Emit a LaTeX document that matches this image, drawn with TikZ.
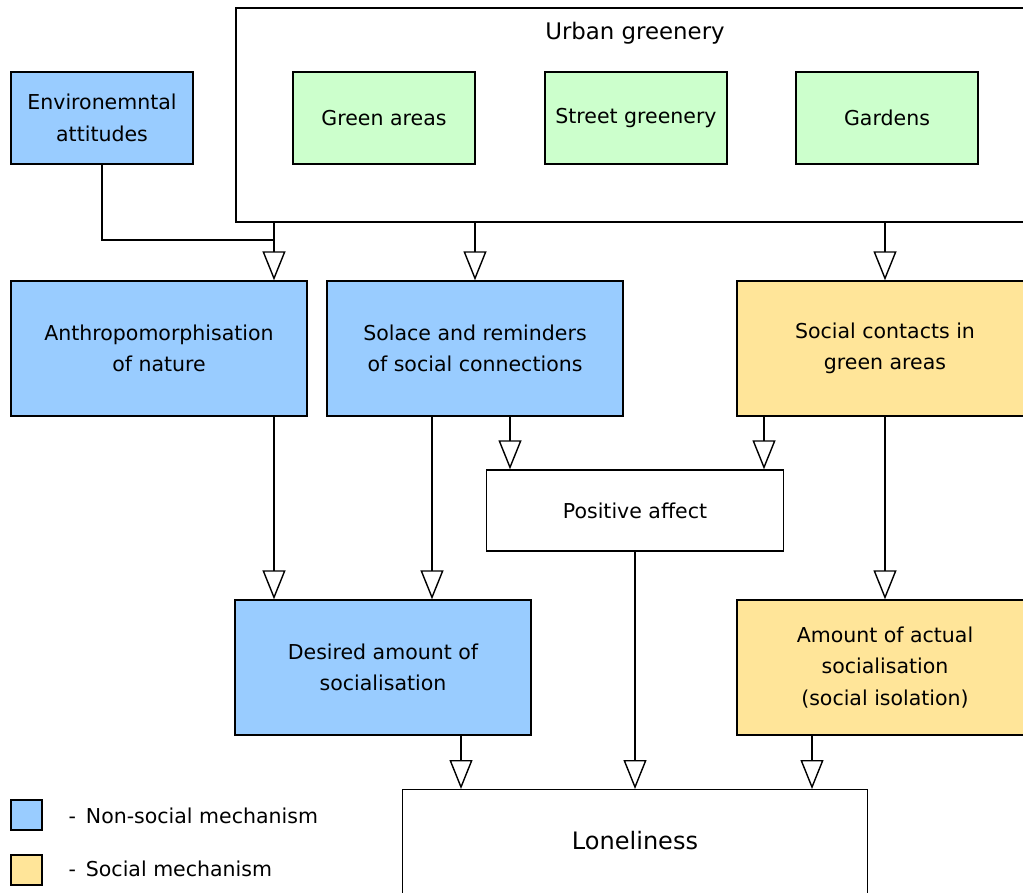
\documentclass[tikz,border=0pt]{standalone}
\usepackage{fontspec}
\setmainfont{DejaVu Sans}
\usetikzlibrary{arrows.meta, positioning, calc}
\definecolor{mNonSocial}{HTML}{99CCFF}
\definecolor{mSocial}{HTML}{FFE599}
\definecolor{mGreen}{HTML}{CCFFCC}

\begin{document}
\begin{tikzpicture}[x=0.03cm, y=-0.03cm, line width=1.2pt,
    box/.style={draw, align=center, inner sep=2pt, font=\fontsize{17.5}{27}\selectfont},
    mech/.style={box, minimum width=8.88cm, minimum height=4.05cm},
    small/.style={box, minimum width=5.46cm, minimum height=2.76cm},
    key/.style={draw, minimum width=0.93cm, minimum height=0.9cm, inner sep=0pt},
    keytext/.style={anchor=west, font=\fontsize{17.5}{20}\selectfont},
    flow/.style={-{Triangle[open, length=0.87cm, width=0.69cm]}}]
    \useasboundingbox (0,0) rectangle (1023,893);
    \clip (0,0) rectangle (1023,893);
    % Urban greenery
    \node[draw, minimum width=24.3cm, minimum height=6.42cm] (urban) at (641,115) {};
    \node[font=\fontsize{19.5}{22}\selectfont] (title) at (635,33) {Urban greenery};
    \node[small, fill=mGreen] (green) at (384,118) {Green areas};
    \node[small, fill=mGreen] (street) at (636,118) {Street greenery};
    \node[small, fill=mGreen] (gardens) at (887,118) {Gardens};
    \node[small, fill=mNonSocial] (env) at (102,118) {Environemntal\\attitudes};
    % Mechanisms
    \node[mech, fill=mNonSocial] (anthro) at (159,348.5) {Anthropomorphisation\\of nature};
    \node[mech, fill=mNonSocial] (solace) at (475,348.5) {Solace and reminders\\of social connections};
    \node[mech, fill=mSocial] (social) at (885,348.5) {Social contacts in\\green areas};
    \node[box, minimum width=8.91cm, minimum height=2.43cm] (affect) at (635,510.5) {Positive affect};
    \node[mech, fill=mNonSocial] (desired) at (383,667.5) {Desired amount of\\socialisation};
    \node[mech, fill=mSocial] (actual) at (885,667.5) {Amount of actual\\socialisation\\(social isolation)};
    \node[draw, anchor=north, minimum width=13.95cm, inner sep=0pt, text height=1.8cm, text depth=1.8cm,
        font=\fontsize{20.5}{24}\selectfont] (lonely) at (635,789) {Loneliness};
    % Legend
    \node[key, fill=mNonSocial] (keynon) at (26.5,815) {};
    \node[keytext] (keynontext) at (64,816) {-\, Non-social mechanism};
    \node[key, fill=mSocial] (keysoc) at (26.5,870) {};
    \node[keytext] (keysoctext) at (64,869) {-\, Social mechanism};
    % Connectors
    \coordinate (xa) at (274,0);
    \coordinate (xd) at (432,0);
    \coordinate (xe) at (510,0);
    \coordinate (xf) at (764,0);
    \coordinate (xg) at (461,0);
    \coordinate (xi) at (812,0);
    \coordinate (joint) at (274,240);
    \draw (env.south) |- (joint);
    \draw[flow] (urban.south -| xa) -- (anthro.north -| xa);
    \draw[flow] (urban.south -| solace) -- (solace.north);
    \draw[flow] (urban.south -| social) -- (social.north);
    \draw[flow] (anthro.south -| xa) -- (desired.north -| xa);
    \draw[flow] (solace.south -| xd) -- (desired.north -| xd);
    \draw[flow] (solace.south -| xe) -- (affect.north -| xe);
    \draw[flow] (social.south -| xf) -- (affect.north -| xf);
    \draw[flow] (social.south) -- (actual.north);
    \draw[flow] (desired.south -| xg) -- (lonely.north -| xg);
    \draw[flow] (affect.south) -- (lonely.north);
    \draw[flow] (actual.south -| xi) -- (lonely.north -| xi);
\end{tikzpicture}
\end{document}
